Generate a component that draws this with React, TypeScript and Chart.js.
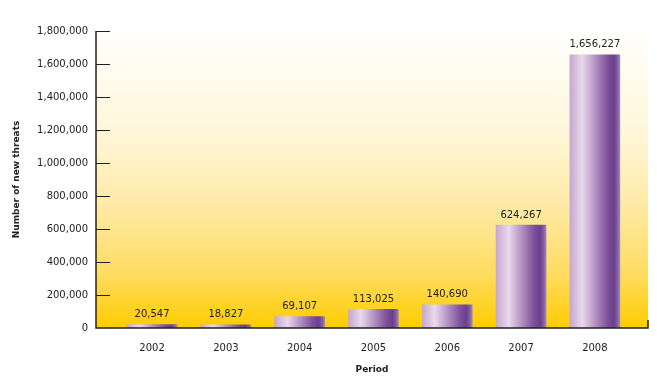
import React, { useEffect, useRef } from "react";
import { Chart, registerables } from "chart.js";

Chart.register(...registerables);

const years = ["2002", "2003", "2004", "2005", "2006", "2007", "2008"];
const threats = [20547, 18827, 69107, 113025, 140690, 624267, 1656227];
const yMax = 1800000;
const yStep = 200000;

const FONT = "'DejaVu Sans', Verdana, sans-serif";
const fmt = (v: number) => v.toLocaleString("en-US");

const decorPlugin = {
  id: "decor",
  beforeDatasetsDraw(chart: any) {
    const { ctx, chartArea } = chart;
    const { left, right, top, bottom } = chartArea;
    ctx.save();
    const g = ctx.createLinearGradient(0, top - 10, 0, bottom);
    g.addColorStop(0, "#ffffff");
    g.addColorStop(0.35, "#fff7dc");
    g.addColorStop(0.6, "#feeaa6");
    g.addColorStop(0.82, "#ffdc62");
    g.addColorStop(1, "#ffcc00");
    ctx.fillStyle = g;
    ctx.fillRect(left, top - 10, right - left, bottom - top + 10);
    ctx.restore();
  },
  afterDatasetsDraw(chart: any) {
    const { ctx, chartArea, scales } = chart;
    const { left, right, top, bottom } = chartArea;
    const ys = scales.y;
    ctx.save();
    ctx.strokeStyle = "#231f20";
    ctx.lineWidth = 1.5;
    ctx.beginPath();
    ctx.moveTo(left, top);
    ctx.lineTo(left, bottom);
    ctx.lineTo(right, bottom);
    ctx.lineTo(right, bottom - 8);
    ctx.stroke();
    ctx.lineWidth = 1;
    for (let v = yStep; v <= yMax; v += yStep) {
      const y = Math.round(ys.getPixelForValue(v)) + 0.5;
      ctx.beginPath();
      ctx.moveTo(left, y);
      ctx.lineTo(left + 14, y);
      ctx.stroke();
    }
    // data labels
    const meta = chart.getDatasetMeta(0);
    ctx.fillStyle = "#222";
    ctx.font = "10px " + FONT;
    ctx.textAlign = "center";
    ctx.textBaseline = "middle";
    meta.data.forEach((el: any, i: number) => {
      ctx.fillText(fmt(threats[i]), el.x, el.y - 10);
    });
    ctx.restore();
  },
};

export default function App() {
  const ref = useRef<HTMLCanvasElement>(null);
  useEffect(() => {
    document.body.style.margin = "0";
    const canvas = ref.current!;
    const chart = new Chart(canvas, {
      type: "bar",
      data: {
        datasets: [
          {
            data: threats.map((v, i) => ({ x: i, y: v })),
            barThickness: 50,
            borderWidth: 0,
            backgroundColor: (c: any) => {
              const ch = c.chart;
              const xs = ch.scales && ch.scales.x;
              if (!xs || c.dataIndex === undefined) return "#9a78b0";
              const cx = xs.getPixelForValue(c.dataIndex);
              if (!isFinite(cx)) return "#9a78b0";
              const g = ch.ctx.createLinearGradient(cx - 25, 0, cx + 25, 0);
              g.addColorStop(0, "#c6a8cf");
              g.addColorStop(0.25, "#ead8ec");
              g.addColorStop(0.5, "#b595c2");
              g.addColorStop(0.75, "#7f529b");
              g.addColorStop(0.88, "#6b3e8c");
              g.addColorStop(0.96, "#8564a3");
              g.addColorStop(1, "#a688bb");
              return g;
            },
          },
        ],
      },
      options: {
        animation: false,
        responsive: false,
        maintainAspectRatio: false,
        layout: { padding: { left: 0, right: 9, top: 31, bottom: 0 } },
        plugins: { legend: { display: false }, tooltip: { enabled: false } },
        scales: {
          x: {
            type: "linear",
            offset: false,
            min: -0.76,
            max: 6.72,
            grid: { display: false, drawTicks: false, offset: false },
            border: { display: false },
            afterBuildTicks: (s: any) => {
              s.ticks = years.map((_, i) => ({ value: i }));
            },
            afterFit: (s: any) => {
              s.height = 52;
            },
            ticks: {
              autoSkip: false,
              maxRotation: 0,
              padding: 14,
              color: "#222",
              font: { family: FONT, size: 10 },
              callback: (v: any) => years[v] ?? "",
            },
            title: {
              display: true,
              text: "Period",
              color: "#222",
              font: { family: FONT, size: 9, weight: "bold" },
              padding: { top: 0, bottom: 5 },
            },
          },
          y: {
            min: 0,
            max: yMax,
            grid: { display: false, drawTicks: false },
            border: { display: false },
            afterFit: (s: any) => {
              s.width = 96;
            },
            ticks: {
              stepSize: yStep,
              padding: 8,
              color: "#222",
              font: { family: FONT, size: 10 },
              callback: (v: any) => fmt(Number(v)),
            },
            title: {
              display: true,
              text: "Number of new threats",
              color: "#222",
              font: { family: FONT, size: 9, weight: "bold" },
              padding: { top: 11, bottom: 0 },
            },
          },
        },
      },
      plugins: [decorPlugin],
    } as any);
    return () => chart.destroy();
  }, []);
  return (
    <div style={{ width: 657, height: 380 }}>
      <canvas ref={ref} width={657} height={380} style={{ display: "block" }} />
    </div>
  );
}
